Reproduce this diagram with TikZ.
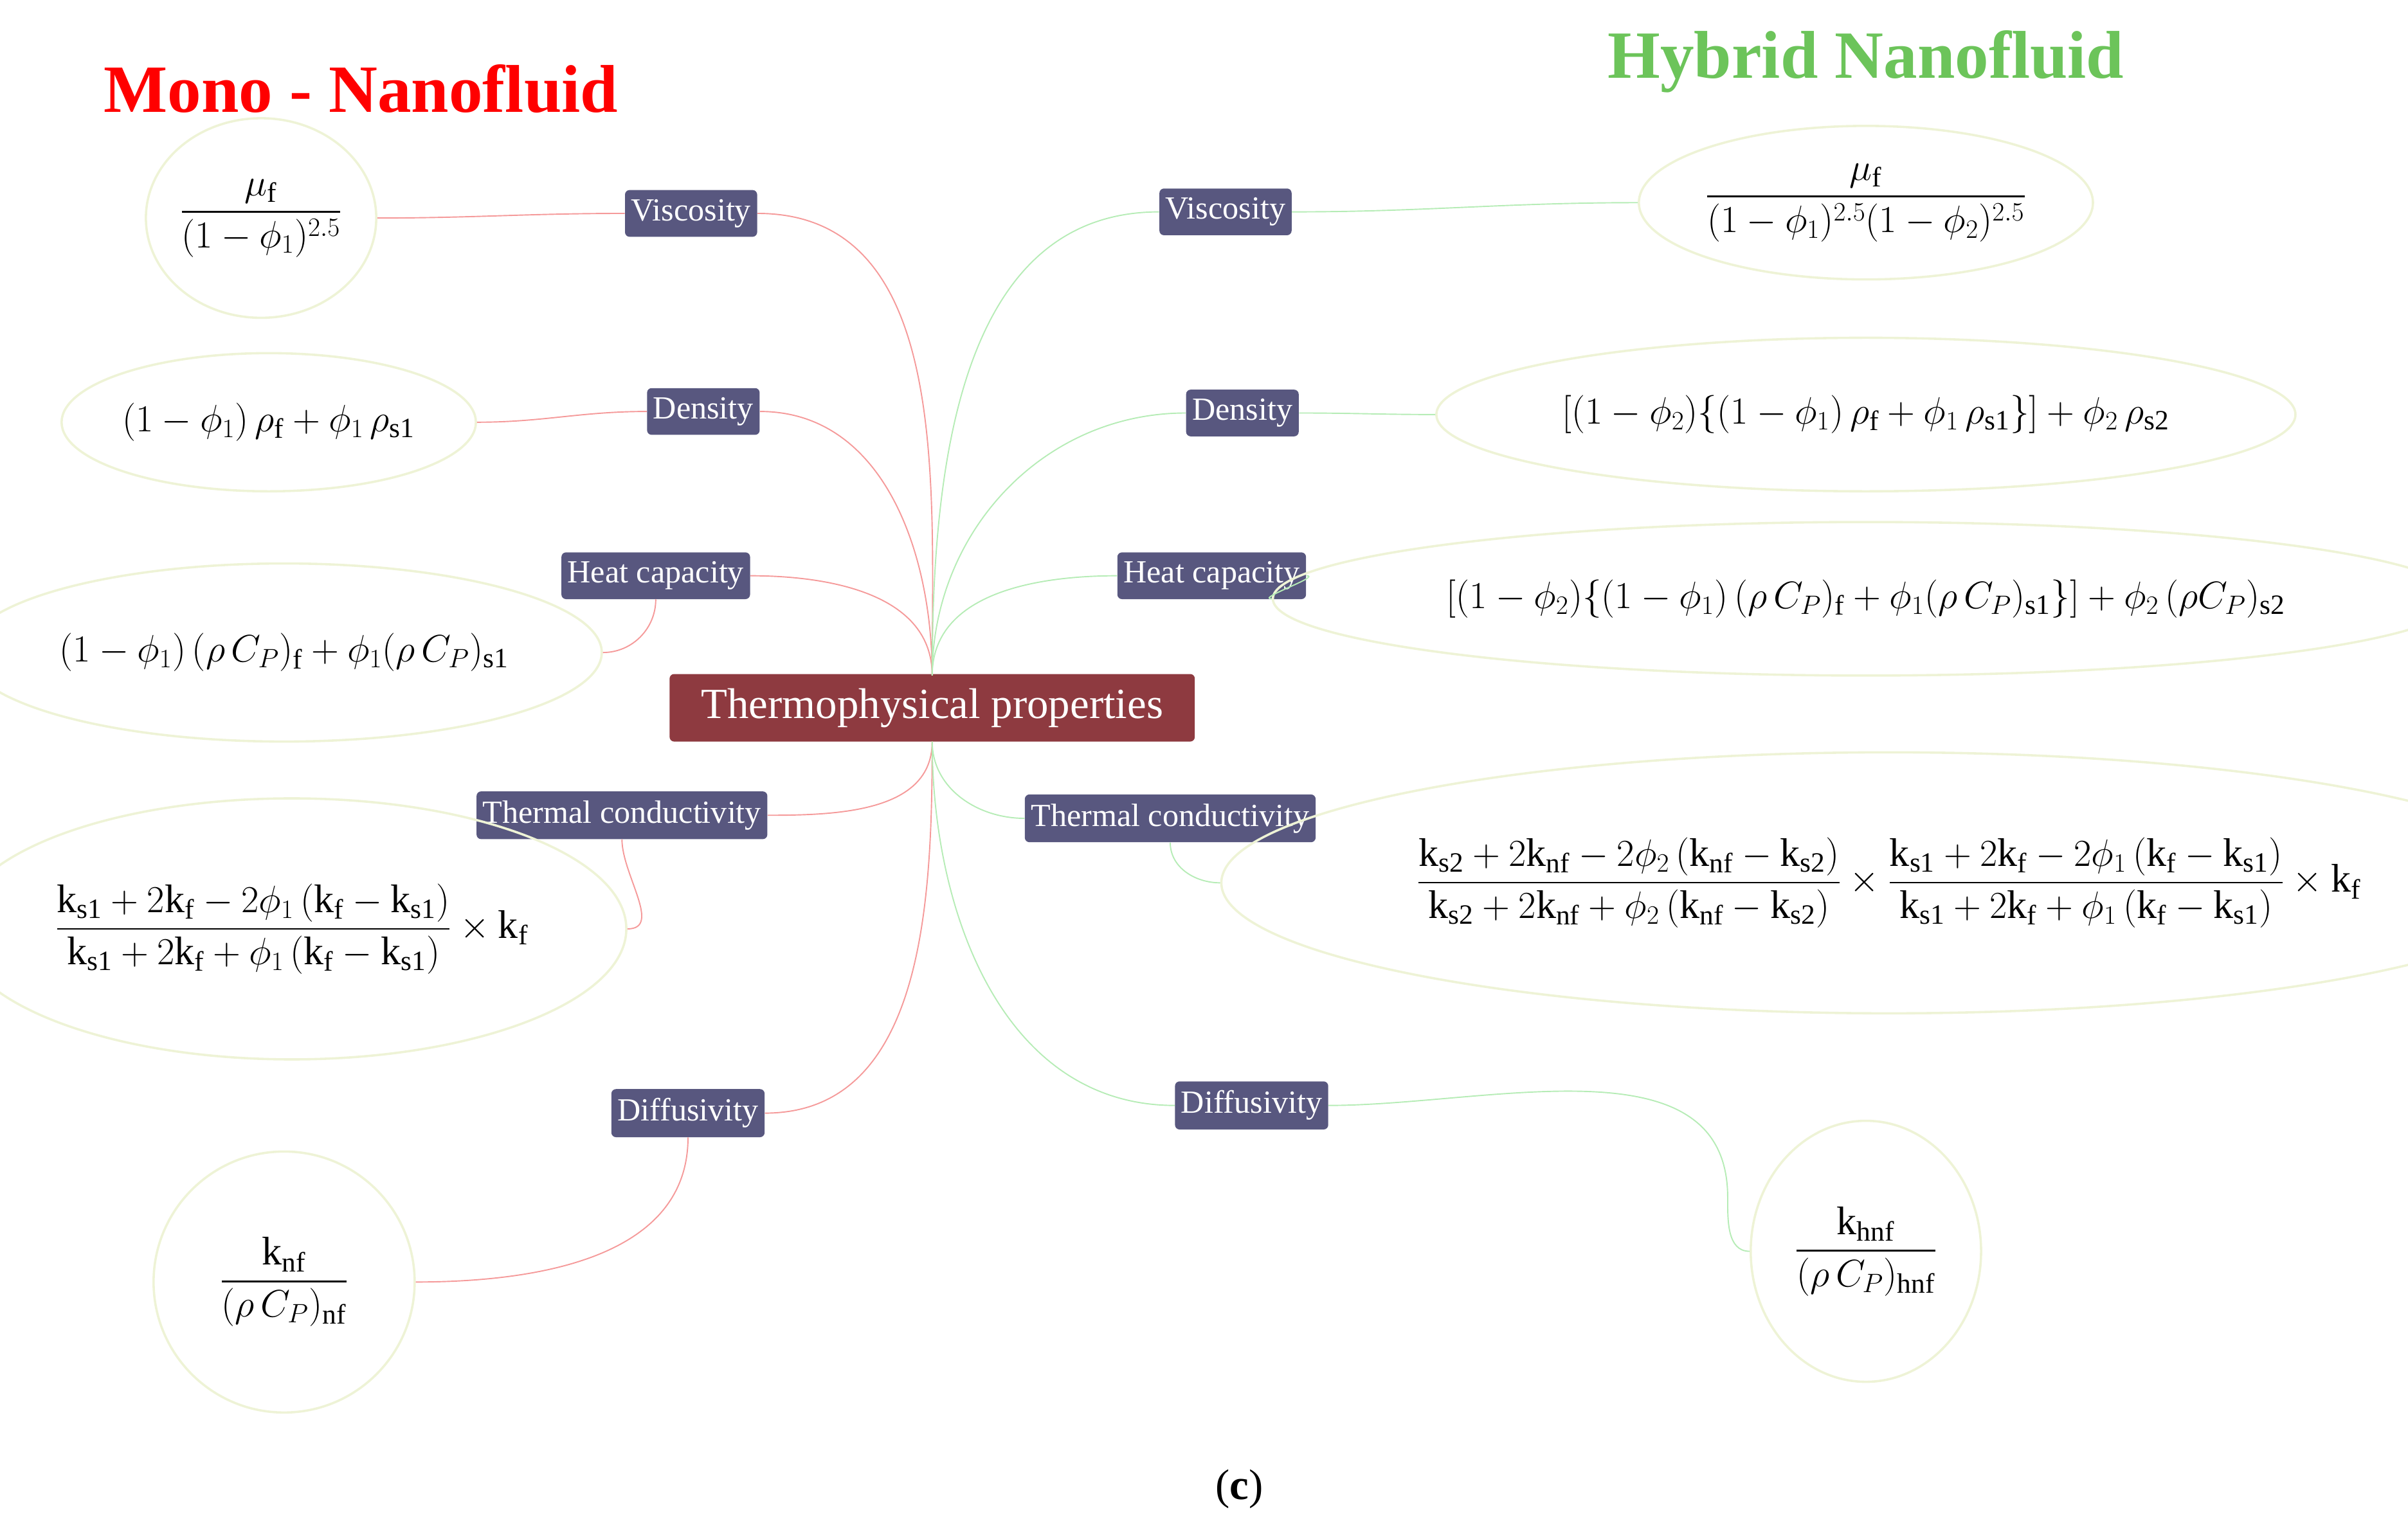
\documentclass[tikz,border=0pt]{standalone}
\usepackage{amsmath}
\usepackage{fontspec}
\setmainfont{Liberation Serif}
\usetikzlibrary{shapes.geometric}
\definecolor{lab}{HTML}{58577F}
\definecolor{cen}{HTML}{8E3A40}
\definecolor{ell}{HTML}{EEF3D6}
\definecolor{rl}{HTML}{F59A9A}
\definecolor{gl}{HTML}{B6ECB6}
\definecolor{hyb}{HTML}{6CC45A}
\begin{document}
\begin{tikzpicture}[x=1pt,y=-1pt,
 lbl/.style={fill=lab,text=white,rounded corners=3pt,inner xsep=4pt,inner ysep=6pt,font=\fontsize{21}{24}\selectfont},
 eq/.style={ellipse,draw=ell,line width=1.5pt,inner sep=0pt,font=\fontsize{26}{30}\selectfont},
 rc/.style={draw=rl,line width=0.8pt},
 gc/.style={draw=gl,line width=0.8pt}]
\useasboundingbox (0,0) rectangle (1568,1001);
\node[font=\fontsize{44}{50}\selectfont\bfseries,text=red] (t1) at (235,58) {Mono - Nanofluid};
\node[font=\fontsize{44}{50}\selectfont\bfseries,text=hyb] (t2) at (1215,40) {Hybrid Nanofluid};
\node[fill=cen,text=white,rounded corners=3pt,minimum width=342,minimum height=44,font=\fontsize{28}{32}\selectfont] (c) at (607,461) {Thermophysical properties};
\coordinate (ct) at (607,440);
\coordinate (cb) at (607,483);
% left labels
\node[lbl] (lv) at (450,139) {Viscosity};
\node[lbl] (ld) at (458,268) {Density};
\node[lbl] (lh) at (427,375) {Heat capacity};
\node[lbl] (lt) at (405,531) {Thermal conductivity};
\node[lbl] (lf) at (448,725) {Diffusivity};
% right labels
\node[lbl] (rv) at (798,138) {Viscosity};
\node[lbl] (rd) at (809,269) {Density};
\node[lbl] (rh) at (789,375) {Heat capacity};
\node[lbl] (rt) at (762,533) {Thermal conductivity};
\node[lbl] (rf) at (815,720) {Diffusivity};
% left ellipses
\node[eq,minimum width=150,minimum height=130] (ev) at (170,142) {$\dfrac{\mu_{\mathrm f}}{(1-\phi_1)^{2.5}}$};
\node[eq,minimum width=260,minimum height=90] (ed) at (175,275) {$(1-\phi_1)\,\rho_{\mathrm f}+\phi_1\,\rho_{\mathrm{s1}}$};
\node[eq,minimum width=370,minimum height=116] (eh) at (185,425) {$(1-\phi_1)\,(\rho\,C_P)_{\mathrm f}+\phi_1(\rho\,C_P)_{\mathrm{s1}}$};
\node[eq,minimum width=370,minimum height=170] (et) at (190,605) {$\dfrac{\mathrm{k_{s1}}+2\mathrm{k_f}-2\phi_1\,(\mathrm{k_f}-\mathrm{k_{s1}})}{\mathrm{k_{s1}}+2\mathrm{k_f}+\phi_1\,(\mathrm{k_f}-\mathrm{k_{s1}})}\times\mathrm{k_f}$};
\node[eq,minimum width=170,minimum height=170] (ef) at (185,835) {$\dfrac{\mathrm{k_{nf}}}{(\rho\,C_P)_{\mathrm{nf}}}$};
% right ellipses
\node[eq,minimum width=250,minimum height=100] (fv) at (1215,132) {$\dfrac{\mu_{\mathrm f}}{(1-\phi_1)^{2.5}(1-\phi_2)^{2.5}}$};
\node[eq,minimum width=500,minimum height=100] (fd) at (1215,270) {$[(1-\phi_2)\{(1-\phi_1)\,\rho_{\mathrm f}+\phi_1\,\rho_{\mathrm{s1}}\}]+\phi_2\,\rho_{\mathrm{s2}}$};
\node[eq,minimum width=690,minimum height=100] (fh) at (1215,390) {$[(1-\phi_2)\{(1-\phi_1)\,(\rho\,C_P)_{\mathrm f}+\phi_1(\rho\,C_P)_{\mathrm{s1}}\}]+\phi_2\,(\rho C_P)_{\mathrm{s2}}$};
\node[eq,minimum width=700,minimum height=170] (ft) at (1230,575) {$\dfrac{\mathrm{k_{s2}}+2\mathrm{k_{nf}}-2\phi_2\,(\mathrm{k_{nf}}-\mathrm{k_{s2}})}{\mathrm{k_{s2}}+2\mathrm{k_{nf}}+\phi_2\,(\mathrm{k_{nf}}-\mathrm{k_{s2}})}\times\dfrac{\mathrm{k_{s1}}+2\mathrm{k_f}-2\phi_1\,(\mathrm{k_f}-\mathrm{k_{s1}})}{\mathrm{k_{s1}}+2\mathrm{k_f}+\phi_1\,(\mathrm{k_f}-\mathrm{k_{s1}})}\times\mathrm{k_f}$};
\node[eq,minimum width=150,minimum height=170] (ff) at (1215,815) {$\dfrac{\mathrm{k_{hnf}}}{(\rho\,C_P)_{\mathrm{hnf}}}$};
% center to labels
\draw[rc] (ct) to[out=90,in=0] (lv.east);
\draw[rc] (ct) to[out=90,in=0] (ld.east);
\draw[rc] (ct) to[out=90,in=0] (lh.east);
\draw[rc] (cb) to[out=-90,in=0] (lt.east);
\draw[rc] (cb) to[out=-90,in=0] (lf.east);
\draw[gc] (ct) to[out=90,in=180] (rv.west);
\draw[gc] (ct) to[out=90,in=180] (rd.west);
\draw[gc] (ct) to[out=90,in=180] (rh.west);
\draw[gc] (cb) to[out=-90,in=180] (rt.west);
\draw[gc] (cb) to[out=-90,in=180] (rf.west);
% labels to ellipses
\draw[rc] (lv.west) to[out=180,in=0] (ev.east);
\draw[rc] (ld.west) to[out=180,in=0] (ed.east);
\draw[rc] (lh.south) to[out=-90,in=0] (eh.east);
\draw[rc] (lt.south) to[out=-90,in=0] (et.east);
\draw[rc] (lf.south) to[out=-90,in=0] (ef.east);
\draw[gc] (rv.east) to[out=0,in=180] (fv.west);
\draw[gc] (rd.east) to[out=0,in=180] (fd.west);
\draw[gc] (rh.east) to[out=0,in=180] (fh.west);
\draw[gc] (rt.south) to[out=-90,in=180] (ft.west);
\draw[gc] (rf.east) to[out=0,in=90] (1125,780) to[out=-90,in=180] (ff.west);
\node[font=\fontsize{28}{32}\selectfont] (cap) at (807,970) {(\textbf{c})};
\end{tikzpicture}
\end{document}
